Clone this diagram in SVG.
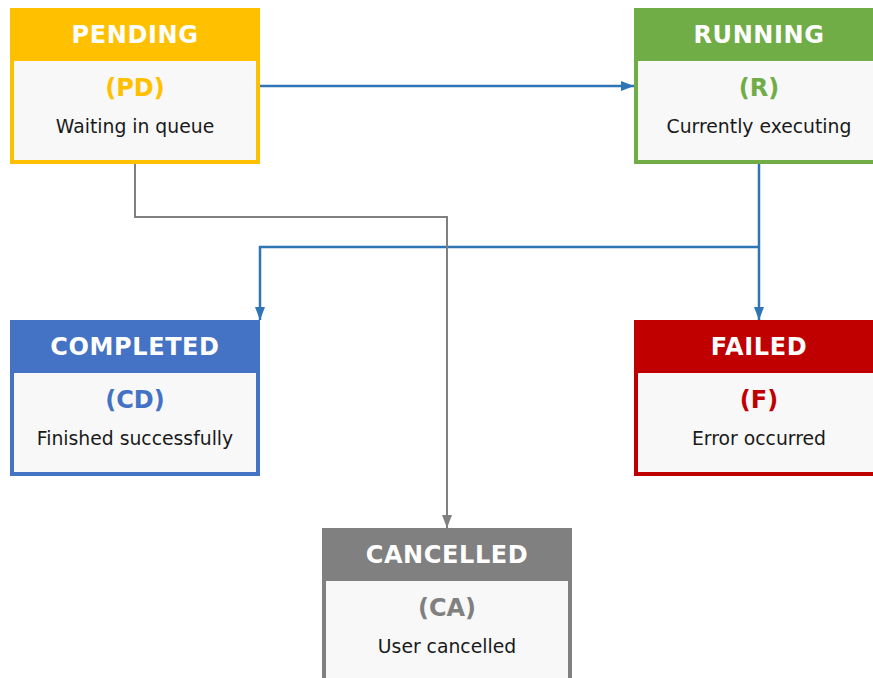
<svg xmlns="http://www.w3.org/2000/svg" width="873" height="678" viewBox="0 0 873 678">
<style>
.body{fill:#F8F8F8;stroke-width:4}
.title{font-family:"DejaVu Sans",sans-serif;font-weight:bold;font-size:24px;fill:#FFFFFF;text-anchor:middle;letter-spacing:0.6px}
.code{font-family:"DejaVu Sans",sans-serif;font-weight:bold;font-size:24px;text-anchor:middle}
.desc{font-family:"DejaVu Sans",sans-serif;font-size:18.8px;fill:#1A1A1A;text-anchor:middle}
.blue{fill:none;stroke:#2E75B6;stroke-width:2.5}
.gray{fill:none;stroke:#808080;stroke-width:2}
</style>
<defs>
<marker id="ab" markerUnits="userSpaceOnUse" markerWidth="14" markerHeight="12" refX="13" refY="6" orient="auto"><path d="M0,1 L13,6 L0,11 z" fill="#2E75B6"/></marker>
<marker id="ag" markerUnits="userSpaceOnUse" markerWidth="14" markerHeight="12" refX="13" refY="6" orient="auto"><path d="M0,1 L13,6 L0,11 z" fill="#808080"/></marker>
</defs>
<rect width="873" height="678" fill="#FFFFFF"/>
<g id="connectors">
<path class="blue" d="M260,86 L634,86" marker-end="url(#ab)"/>
<path class="blue" d="M759,164 L759,320" marker-end="url(#ab)"/>
<path class="blue" d="M759,247 L260,247 L260,320" marker-end="url(#ab)"/>
<path class="gray" d="M135,164 L135,217 L447,217 L447,528" marker-end="url(#ag)"/>
</g>
<g id="pending">
<rect class="body" x="12" y="10" width="246" height="152" stroke="#FFC000"/>
<rect x="10" y="8" width="250" height="53" fill="#FFC000"/>
<text class="title" x="135" y="43">PENDING</text>
<text class="code" x="135" y="96" fill="#FFC000">(PD)</text>
<text class="desc" x="135" y="133">Waiting in queue</text>
</g>
<g id="running">
<rect class="body" x="636" y="10" width="246" height="152" stroke="#70AD47"/>
<rect x="634" y="8" width="250" height="53" fill="#70AD47"/>
<text class="title" x="759" y="43">RUNNING</text>
<text class="code" x="759" y="96" fill="#70AD47">(R)</text>
<text class="desc" x="759" y="133">Currently executing</text>
</g>
<g id="completed">
<rect class="body" x="12" y="322" width="246" height="152" stroke="#4472C4"/>
<rect x="10" y="320" width="250" height="53" fill="#4472C4"/>
<text class="title" x="135" y="355">COMPLETED</text>
<text class="code" x="135" y="408" fill="#4472C4">(CD)</text>
<text class="desc" x="135" y="445">Finished successfully</text>
</g>
<g id="failed">
<rect class="body" x="636" y="322" width="246" height="152" stroke="#C00000"/>
<rect x="634" y="320" width="250" height="53" fill="#C00000"/>
<text class="title" x="759" y="355">FAILED</text>
<text class="code" x="759" y="408" fill="#C00000">(F)</text>
<text class="desc" x="759" y="445">Error occurred</text>
</g>
<g id="cancelled">
<rect class="body" x="324" y="530" width="246" height="152" stroke="#808080"/>
<rect x="322" y="528" width="250" height="53" fill="#808080"/>
<text class="title" x="447" y="563">CANCELLED</text>
<text class="code" x="447" y="616" fill="#808080">(CA)</text>
<text class="desc" x="447" y="653">User cancelled</text>
</g>
</svg>
